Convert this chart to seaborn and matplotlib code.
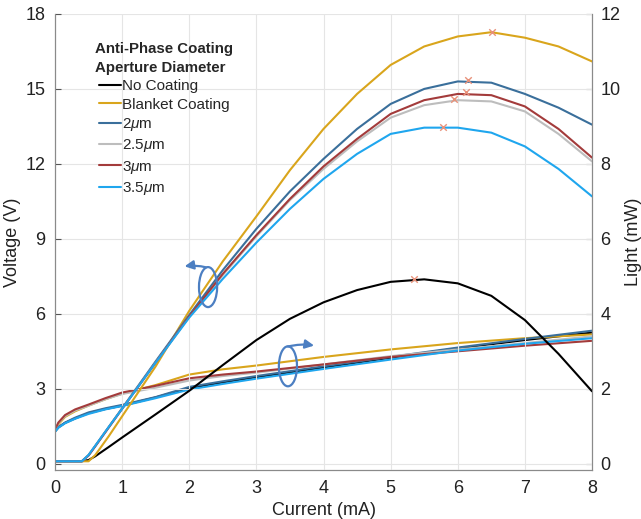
import matplotlib
matplotlib.use("Agg")
import matplotlib.pyplot as plt
import seaborn as sns
import pandas as pd
from matplotlib.patches import Ellipse

# current grid (mA)
current = [0, 0.4, 0.5, 0.6, 0.8, 1.0, 1.5, 2.0, 2.5, 3.0, 3.5, 4.0, 4.5, 5.0,
           5.5, 6.0, 6.5, 7.0, 7.5, 8.0]

# steep curves -> left axis
steep_no_coating = [0.1, 0.1, 0.15, 0.3, 0.67, 1.05, 1.98, 2.92, 3.95, 4.95, 5.8, 6.46,
                    6.95, 7.28, 7.38, 7.22, 6.72, 5.75, 4.4, 2.9]
steep_blanket = [0.1, 0.1, 0.1, 0.35, 1.1, 1.9, 3.9, 6.12, 8.1, 9.9, 11.75, 13.4, 14.8,
                 15.96, 16.7, 17.1, 17.27, 17.05, 16.7, 16.1]
steep_2um = [0.1, 0.1, 0.35, 0.72, 1.47, 2.22, 4.1, 5.95, 7.75, 9.4, 10.9, 12.2, 13.4,
             14.4, 15.0, 15.3, 15.25, 14.8, 14.25, 13.57]
steep_25um = [0.1, 0.1, 0.33, 0.7, 1.45, 2.2, 4.05, 5.88, 7.55, 9.1, 10.55, 11.8, 12.9,
              13.85, 14.35, 14.55, 14.5, 14.1, 13.2, 12.1]
steep_3um = [0.1, 0.1, 0.33, 0.7, 1.45, 2.2, 4.05, 5.9, 7.6, 9.15, 10.6, 11.9, 13.0,
             14.0, 14.55, 14.8, 14.75, 14.3, 13.4, 12.25]
steep_35um = [0.1, 0.1, 0.35, 0.72, 1.47, 2.2, 4.05, 5.85, 7.4, 8.85, 10.2, 11.4, 12.4,
              13.2, 13.45, 13.45, 13.25, 12.7, 11.8, 10.7]

# rollover peaks (current, value)
peak_i = [5.35, 6.51, 6.15, 5.95, 6.12, 5.78]
peak_v = [7.39, 17.27, 15.34, 14.58, 14.86, 13.49]

# flat curves -> right axis
current_flat = [0, 0.05, 0.15, 0.3, 0.5, 0.75, 1.0, 1.5, 2.0, 2.5, 3.0, 4.0, 5.0, 6.0,
                7.0, 8.0]
flat_no_coating = [0.86, 0.97, 1.09, 1.21, 1.35, 1.46, 1.55, 1.77, 2.02, 2.17, 2.31,
                   2.57, 2.83, 3.08, 3.3, 3.5]
flat_blanket = [0.88, 1.05, 1.25, 1.4, 1.55, 1.72, 1.87, 2.1, 2.38, 2.52, 2.62, 2.85,
                3.05, 3.22, 3.35, 3.45]
flat_2um = [0.87, 0.98, 1.1, 1.23, 1.37, 1.48, 1.57, 1.78, 2.05, 2.2, 2.34, 2.6, 2.85,
            3.1, 3.33, 3.55]
flat_25um = [0.9, 1.08, 1.27, 1.42, 1.55, 1.72, 1.86, 2.03, 2.22, 2.34, 2.43, 2.65,
             2.87, 3.05, 3.22, 3.4]
flat_3um = [0.91, 1.1, 1.3, 1.45, 1.58, 1.75, 1.9, 2.08, 2.28, 2.38, 2.46, 2.65, 2.85,
            3.0, 3.15, 3.28]
flat_35um = [0.85, 0.96, 1.08, 1.2, 1.33, 1.45, 1.54, 1.75, 1.98, 2.13, 2.27, 2.53,
             2.78, 3.02, 3.2, 3.35]

labels = ["No Coating", "Blanket Coating", "2$\\mu$m", "2.5$\\mu$m", "3$\\mu$m", "3.5$\\mu$m"]
colors = ["#000000", "#D9A51C", "#3A6F9B", "#BDBDBD", "#A33B3B", "#1FA6EE"]

steep = [steep_no_coating, steep_blanket, steep_2um, steep_25um, steep_3um, steep_35um]
flat = [flat_no_coating, flat_blanket, flat_2um, flat_25um, flat_3um, flat_35um]

sns.set_style("white")
plt.rcParams["font.family"] = ["Liberation Sans", "DejaVu Sans"]
plt.rcParams["mathtext.fontset"] = "custom"
plt.rcParams["mathtext.it"] = "Liberation Sans:italic"

fig = plt.figure(figsize=(6.41, 5.19), dpi=100)
ax = fig.add_axes([0.0858, 0.0944, 0.8378, 0.8787])
ax2 = ax.twinx()

# right-axis curves first so they sit underneath
for lab, col, ys in zip(labels, colors, flat):
    df = pd.DataFrame({"I": current_flat, "y": ys})
    sns.lineplot(data=df, x="I", y="y", ax=ax2, color=col, lw=1.5, legend=False)

ax.set_zorder(ax2.get_zorder() + 1)
ax.patch.set_visible(False)

for lab, col, ys in zip(labels, colors, steep):
    df = pd.DataFrame({"I": current, "y": ys})
    sns.lineplot(data=df, x="I", y="y", ax=ax, color=col, lw=1.5, label=lab)

ax.scatter(peak_i, peak_v, marker="x", color="#E8917A", s=22, lw=1.0, zorder=5)

ax.set_xlim(0, 8)
ax.set_ylim(-0.25, 18)
ax2.set_ylim(-0.1667, 12)
ax.set_xticks(range(0, 9))
ax.set_yticks([0, 3, 6, 9, 12, 15, 18])
ax2.set_yticks([0, 2, 4, 6, 8, 10, 12])

ax.grid(True, color="#E5E5E5", lw=0.8)
ax.set_axisbelow(True)

for a in (ax, ax2):
    a.tick_params(direction="in", length=4, labelsize=13, color="#555555",
                  labelcolor="#222222", pad=7)
    for s in a.spines.values():
        s.set_color("#8A8A8A")
    a.spines["top"].set_visible(False)
ax2.tick_params(pad=6)

ax.set_xlabel("Current (mA)", fontsize=13, color="#222222", labelpad=4)
ax.set_ylabel("Voltage (V)", fontsize=13, color="#222222", labelpad=3)
ax2.set_ylabel("Light (mW)", fontsize=13, color="#222222", labelpad=3)

leg = ax.legend(title="Anti-Phase Coating\nAperture Diameter", loc="upper left",
                bbox_to_anchor=(0.075, 0.938), frameon=False, fontsize=11,
                handlelength=1.45, handletextpad=0.05, labelspacing=0.28,
                borderaxespad=0, borderpad=0)
leg.get_title().set_fontweight("bold")
leg.get_title().set_fontsize(10.8)
leg.get_title().set_linespacing(1.45)
leg._legend_box.align = "center"

# axis indicator ellipses
arrow_col = "#4C7FC2"
ax.add_patch(Ellipse((2.28, 7.07), 0.27, 1.6, fill=False, ec=arrow_col, lw=1.6, zorder=6))
ax.annotate("", xy=(1.93, 7.9), xytext=(2.25, 7.86),
            arrowprops=dict(arrowstyle="-|>", color=arrow_col, lw=1.6, shrinkA=0, shrinkB=0,
                            connectionstyle="arc3,rad=0.1", mutation_scale=13), zorder=6)
ax.add_patch(Ellipse((3.47, 3.9), 0.27, 1.6, fill=False, ec=arrow_col, lw=1.6, zorder=6))
ax.annotate("", xy=(3.86, 4.73), xytext=(3.47, 4.69),
            arrowprops=dict(arrowstyle="-|>", color=arrow_col, lw=1.6, shrinkA=0, shrinkB=0,
                            connectionstyle="arc3,rad=-0.1", mutation_scale=13), zorder=6)

fig.savefig("out.png", dpi=100)
